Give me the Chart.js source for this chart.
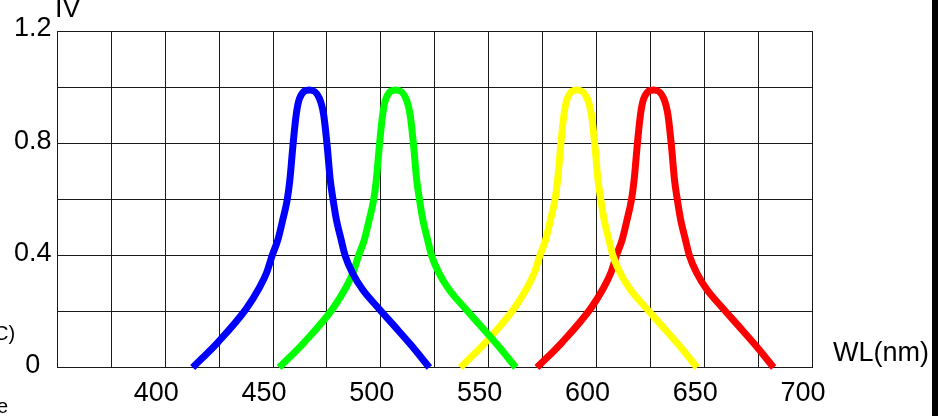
<!DOCTYPE html>
<html lang="en">
<head>
<meta charset="UTF-8">
<title>IV vs WL</title>
<script src="https://cdn.jsdelivr.net/npm/chart.js"></script>
<style>
  html, body { margin: 0; padding: 0; background: #fff; overflow: hidden; }
  #wrap { position: relative; width: 938px; height: 416px; }
  #wrap canvas { position: absolute; left: 0; top: 0; }
  .lbl { position: absolute; font-family: 'Liberation Sans', Arial, sans-serif; color: #000; white-space: nowrap; }
  .big { font-size: 27px; line-height: 27px; }
  .small { font-size: 20px; line-height: 20px; }
  #edge { position: absolute; left: 932px; top: 0; width: 6px; height: 416px; background: #000; }
</style>
</head>
<body>
<div id="wrap">
  <canvas id="spectrum" width="938" height="416"></canvas>
  <span class="lbl big" style="left:55px; top:-5px;">IV</span>
  <span class="lbl big" style="left:833px; top:339px;">WL(nm)</span>
  <span class="lbl small" style="left:-6px; top:323px;">C)</span>
  <span class="lbl small" style="left:-3px; top:396px;">e</span>
  <div id="edge"></div>
</div>

<script>
  // wavelength (nm) / relative intensity
  const blueX   = [412.7, 424.4, 437.6, 443.3, 446.9, 449.6, 452.2, 454.5, 456.6, 457.8, 459.2, 460.7, 462.3, 466.9, 471.5, 473.5, 475.1, 476.5, 477.8, 479.3, 481.6, 483.4, 486.9, 491.6, 498.5, 506.0, 514.0, 522.5];
  const blueY   = [0, 0.09, 0.21, 0.28, 0.336, 0.40, 0.455, 0.527, 0.60, 0.67, 0.79, 0.90, 0.96, 0.99, 0.96, 0.90, 0.79, 0.67, 0.60, 0.53, 0.455, 0.40, 0.336, 0.277, 0.215, 0.15, 0.08, 0];

  const greenX  = [452.8, 464.5, 477.7, 483.4, 487.0, 489.7, 492.3, 494.6, 496.7, 497.9, 499.3, 500.8, 502.4, 507.0, 511.6, 513.6, 515.2, 516.6, 517.9, 519.4, 521.7, 523.5, 527.0, 531.7, 538.6, 546.1, 554.1, 562.6];
  const greenY  = [0, 0.09, 0.21, 0.28, 0.336, 0.40, 0.455, 0.527, 0.60, 0.67, 0.79, 0.90, 0.96, 0.99, 0.96, 0.90, 0.79, 0.67, 0.60, 0.53, 0.455, 0.40, 0.336, 0.277, 0.215, 0.15, 0.08, 0];

  const yellowX = [536.9, 548.6, 561.8, 567.5, 571.1, 573.8, 576.4, 578.7, 580.8, 582.0, 583.4, 584.9, 586.5, 591.1, 595.7, 597.7, 599.3, 600.7, 602.0, 603.5, 605.8, 607.6, 611.1, 615.8, 622.7, 630.2, 638.2, 646.7];
  const yellowY = [0, 0.09, 0.21, 0.28, 0.336, 0.40, 0.455, 0.527, 0.60, 0.67, 0.79, 0.90, 0.96, 0.99, 0.96, 0.90, 0.79, 0.67, 0.60, 0.53, 0.455, 0.40, 0.336, 0.277, 0.215, 0.15, 0.08, 0];

  const redX    = [572.4, 584.1, 597.3, 603.0, 606.6, 609.3, 611.9, 614.2, 616.3, 617.5, 618.9, 620.4, 622.0, 626.6, 631.2, 633.2, 634.8, 636.2, 637.5, 639.0, 641.3, 643.1, 646.6, 651.3, 658.2, 665.7, 673.7, 682.2];
  const redY    = [0, 0.09, 0.21, 0.28, 0.336, 0.40, 0.455, 0.527, 0.60, 0.67, 0.79, 0.90, 0.96, 0.99, 0.96, 0.90, 0.79, 0.67, 0.60, 0.53, 0.455, 0.40, 0.336, 0.277, 0.215, 0.15, 0.08, 0];

  const xLabels = [400, 450, 500, 550, 600, 650, 700];
  const yLabels = ['0', '0.4', '0.8', '1.2'];

  const font = { family: "'Liberation Sans', Arial, sans-serif", size: 27 };
  const gridColor = '#1a1a1a';

  function curve(label, xs, ys, color) {
    return {
      label: label,
      data: xs.map((x, i) => ({ x: x, y: ys[i] })),
      borderColor: color,
      backgroundColor: color,
      borderWidth: 7,
      pointRadius: 0,
      fill: false,
      clip: false,
      cubicInterpolationMode: 'monotone'
    };
  }

  new Chart(document.getElementById('spectrum'), {
    type: 'line',
    data: {
      datasets: [
        curve('Blue', blueX, blueY, '#0000ff'),
        curve('Green', greenX, greenY, '#00ff00'),
        curve('Yellow', yellowX, yellowY, '#ffff00'),
        curve('Red', redX, redY, '#ff0000')
      ]
    },
    options: {
      responsive: false,
      animation: false,
      devicePixelRatio: 1,
      layout: { padding: { top: 31, right: 126, left: 0, bottom: 0 } },
      plugins: { legend: { display: false }, tooltip: { enabled: false } },
      scales: {
        x: {
          type: 'linear',
          min: 350,
          max: 700,
          afterFit: s => { s.height = 48.5; },
          ticks: {
            stepSize: 25,
            autoSkip: false,
            maxRotation: 0,
            labelOffset: -9,
            padding: 10,
            color: '#000',
            font: font,
            callback: v => xLabels.includes(v) ? String(v) : ''
          },
          grid: { color: gridColor, lineWidth: 1, drawTicks: false },
          border: { color: gridColor }
        },
        y: {
          min: 0,
          max: 1.2,
          afterFit: s => { s.width = 57.5; },
          ticks: {
            stepSize: 0.2,
            crossAlign: 'center',
            padding: 6,
            labelOffset: -2,
            color: '#000',
            font: font,
            callback: v => {
              const t = v === 0 ? '0' : (Math.round(v * 10) / 10).toString();
              return yLabels.includes(t) ? t : '';
            }
          },
          grid: { color: gridColor, lineWidth: 1, drawTicks: false },
          border: { color: gridColor }
        }
      }
    }
  });
</script>
</body>
</html>
